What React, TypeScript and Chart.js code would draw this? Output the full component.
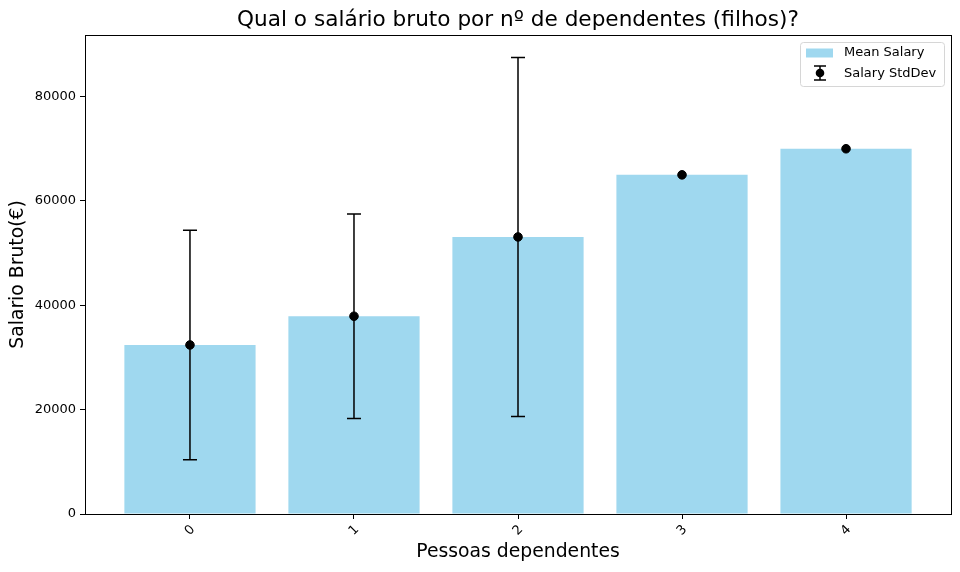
import React, { useEffect, useRef } from "react";
import { Chart, registerables } from "chart.js";

Chart.register(...registerables);

// data
const dependents = ["0", "1", "2", "3", "4"];
const meanSalary = [32400, 37900, 53100, 65000, 70000];
const salaryStd: (number | null)[] = [22000, 19600, 34400, null, null];
const yTicks = [0, 20000, 40000, 60000, 80000];
const yMax = 91800;

const TITLE = "Qual o salário bruto por nº de dependentes (filhos)?";
const FONT = "'DejaVu Sans', sans-serif";
const BAR_COLOR = "rgba(135, 206, 235, 0.8)";

// error bars drawn under the markers, over the bars
const errorBarPlugin = {
  id: "errorBars",
  beforeDatasetDraw(chart: any, args: any) {
    if (args.index !== 1) return;
    const { ctx, scales } = chart;
    const x = scales.x;
    const y = scales.y;
    ctx.save();
    ctx.strokeStyle = "#000";
    ctx.lineWidth = 1.5;
    meanSalary.forEach((m, i) => {
      const s = salaryStd[i];
      if (s == null) return;
      const px = x.getPixelForValue(i);
      const top = y.getPixelForValue(m + s);
      const bot = y.getPixelForValue(m - s);
      ctx.beginPath();
      ctx.moveTo(px, top);
      ctx.lineTo(px, bot);
      ctx.moveTo(px - 7, top);
      ctx.lineTo(px + 7, top);
      ctx.moveTo(px - 7, bot);
      ctx.lineTo(px + 7, bot);
      ctx.stroke();
    });
    ctx.restore();
  },
};

// axes frame, title (centred over the axes) + matplotlib style legend
const framePlugin = {
  id: "frameLegend",
  afterDraw(chart: any) {
    const { ctx, chartArea } = chart;
    ctx.save();
    ctx.strokeStyle = "#000";
    ctx.lineWidth = 1;
    ctx.strokeRect(
      Math.round(chartArea.left) + 0.5,
      Math.round(chartArea.top) + 0.5,
      Math.round(chartArea.right - chartArea.left),
      Math.round(chartArea.bottom - chartArea.top)
    );

    ctx.fillStyle = "#000";
    ctx.font = `21.6px ${FONT}`;
    ctx.textAlign = "center";
    ctx.textBaseline = "middle";
    ctx.fillText(TITLE, (chartArea.left + chartArea.right) / 2, 20);

    const bx = 800.5;
    const by = 42.5;
    const bw = 144;
    const bh = 44;
    const r = 3;
    ctx.beginPath();
    ctx.moveTo(bx + r, by);
    ctx.arcTo(bx + bw, by, bx + bw, by + bh, r);
    ctx.arcTo(bx + bw, by + bh, bx, by + bh, r);
    ctx.arcTo(bx, by + bh, bx, by, r);
    ctx.arcTo(bx, by, bx + bw, by, r);
    ctx.closePath();
    ctx.fillStyle = "rgba(255,255,255,0.8)";
    ctx.fill();
    ctx.strokeStyle = "#d6d6d6";
    ctx.stroke();

    // Mean Salary patch
    ctx.fillStyle = BAR_COLOR;
    ctx.fillRect(806, 48.5, 27, 9);

    // StdDev handle
    const cx = 820;
    const cy = 73;
    ctx.strokeStyle = "#000";
    ctx.lineWidth = 1.5;
    ctx.beginPath();
    ctx.moveTo(cx, cy - 7);
    ctx.lineTo(cx, cy + 7);
    ctx.moveTo(cx - 6, cy - 7);
    ctx.lineTo(cx + 6, cy - 7);
    ctx.moveTo(cx - 6, cy + 7);
    ctx.lineTo(cx + 6, cy + 7);
    ctx.stroke();
    ctx.fillStyle = "#000";
    ctx.beginPath();
    ctx.arc(cx, cy, 4.3, 0, Math.PI * 2);
    ctx.fill();

    ctx.font = `13px ${FONT}`;
    ctx.textBaseline = "middle";
    ctx.textAlign = "left";
    ctx.fillText("Mean Salary", 844, 53);
    ctx.fillText("Salary StdDev", 844, 73.5);
    ctx.restore();
  },
};

const App = () => {
  const canvasRef = useRef<HTMLCanvasElement>(null);

  useEffect(() => {
    document.body.style.margin = "0";
    const ctx = canvasRef.current?.getContext("2d");
    if (!ctx) return;

    const chart = new Chart(ctx, {
      type: "bar",
      data: {
        datasets: [
          {
            label: "Mean Salary",
            data: meanSalary.map((v, i) => ({ x: i, y: v })),
            backgroundColor: BAR_COLOR,
            borderWidth: 0,
            barPercentage: 0.8,
            categoryPercentage: 1,
            order: 2,
          },
          {
            type: "scatter",
            label: "Salary StdDev",
            data: meanSalary.map((v, i) => ({ x: i, y: v })),
            backgroundColor: "#000",
            borderColor: "#000",
            pointRadius: 4.3,
            pointHoverRadius: 4.3,
            order: 1,
          } as any,
        ],
      },
      options: {
        responsive: false,
        animation: false,
        devicePixelRatio: 1,
        layout: { padding: { left: 0, right: 9, top: 35, bottom: 0 } },
        plugins: {
          legend: { display: false },
          tooltip: { enabled: false },
          title: { display: false },
        },
        scales: {
          x: {
            type: "linear",
            min: -0.64,
            max: 4.64,
            offset: false,
            afterFit: (scale: any) => {
              scale.height = 58;
            },
            afterBuildTicks: (scale: any) => {
              scale.ticks = dependents.map((_, i) => ({ value: i }));
            },
            ticks: {
              autoSkip: false,
              minRotation: 45,
              maxRotation: 45,
              color: "#000",
              padding: 3,
              labelOffset: 3,
              font: { family: FONT, size: 13 },
              callback: (value: any) => dependents[value as number],
            },
            grid: {
              display: true,
              offset: false,
              drawOnChartArea: false,
              drawTicks: true,
              tickLength: 5,
              color: "#000",
            },
            border: { display: false },
            title: {
              display: true,
              text: "Pessoas dependentes",
              color: "#000",
              font: { family: FONT, size: 18.8 },
              padding: { top: 0, bottom: 9 },
            },
          },
          y: {
            min: 0,
            max: yMax,
            afterFit: (scale: any) => {
              scale.width = 85;
            },
            afterBuildTicks: (scale: any) => {
              scale.ticks = yTicks.map((v) => ({ value: v }));
            },
            ticks: {
              color: "#000",
              padding: 4,
              font: { family: FONT, size: 13 },
              callback: (value: any) => String(value),
            },
            grid: {
              display: true,
              drawOnChartArea: false,
              drawTicks: true,
              tickLength: 5,
              color: "#000",
            },
            border: { display: false },
            title: {
              display: true,
              text: "Salario Bruto(€)",
              color: "#000",
              font: { family: FONT, size: 18.8 },
              padding: { top: 7, bottom: 0 },
            },
          },
        },
      } as any,
      plugins: [errorBarPlugin, framePlugin],
    });

    return () => {
      chart.destroy();
    };
  }, []);

  return (
    <div style={{ width: 960, height: 572, background: "#fff" }}>
      <canvas ref={canvasRef} width={960} height={572}></canvas>
    </div>
  );
};

export default App;
